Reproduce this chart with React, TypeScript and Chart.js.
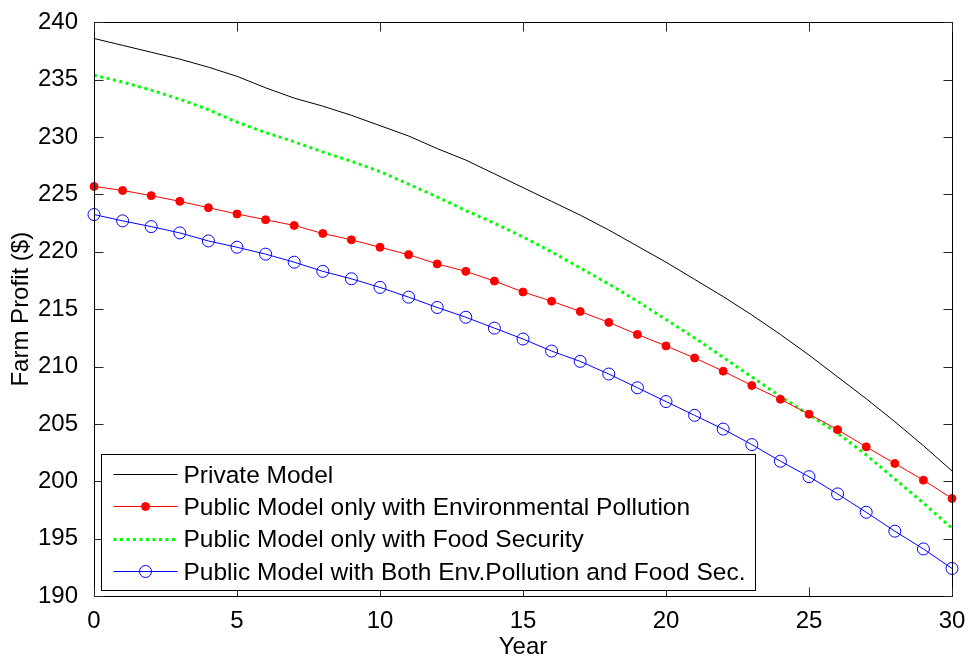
import React, { useEffect, useRef } from "react";
import { Chart, registerables } from "chart.js";

Chart.register(...registerables);

const years = [0, 1, 2, 3, 4, 5, 6, 7, 8, 9, 10, 11, 12, 13, 14, 15, 16, 17, 18, 19, 20, 21, 22, 23, 24, 25, 26, 27, 28, 29, 30];

const privateModel = [238.6, 238.0, 237.4, 236.8, 236.1, 235.3, 234.3, 233.4, 232.7, 231.9, 231.0, 230.1, 229.0, 228.0, 226.8, 225.6, 224.4, 223.2, 221.9, 220.5, 219.1, 217.6, 216.1, 214.5, 212.8, 211.0, 209.1, 207.2, 205.2, 203.1, 200.9];

const envPollution = [225.7, 225.35, 224.9, 224.4, 223.85, 223.3, 222.8, 222.3, 221.6, 221.05, 220.4, 219.75, 218.95, 218.3, 217.45, 216.5, 215.7, 214.8, 213.85, 212.8, 211.8, 210.75, 209.6, 208.35, 207.15, 205.85, 204.5, 203.0, 201.55, 200.1, 198.5];

const foodSecurity = [235.4, 234.8, 234.1, 233.3, 232.4, 231.3, 230.4, 229.6, 228.7, 227.9, 227.0, 225.9, 224.8, 223.6, 222.5, 221.3, 220.0, 218.6, 217.2, 215.7, 214.1, 212.5, 210.8, 209.1, 207.4, 205.8, 204.2, 202.3, 200.2, 198.1, 195.9];

const bothModel = [223.25, 222.7, 222.2, 221.65, 220.95, 220.4, 219.8, 219.1, 218.3, 217.65, 216.9, 216.05, 215.15, 214.3, 213.35, 212.4, 211.35, 210.45, 209.35, 208.15, 206.95, 205.75, 204.55, 203.2, 201.75, 200.4, 198.9, 197.3, 195.65, 194.1, 192.4];

const seriesLabels = [
  "Private Model",
  "Public Model only with Environmental Pollution",
  "Public Model only with Food Security",
  "Public Model with Both Env.Pollution and Food Sec.",
];

const xTicks = [0, 5, 10, 15, 20, 25, 30];
const yTicks = [190, 195, 200, 205, 210, 215, 220, 225, 230, 235, 240];

const FONT = "'Liberation Sans', Arial, sans-serif";
const FS = 24;
const LFS = 24.5;

const toXY = (vals: number[]) => vals.map((v, i) => ({ x: years[i], y: v }));

const boxPlugin = {
  id: "matlabBox",
  afterDatasetsDraw(chart: any) {
    const { ctx, chartArea: a, scales } = chart;
    const L = Math.round(a.left) + 0.5;
    const R = Math.round(a.right) + 0.5;
    const T = Math.round(a.top) + 0.5;
    const B = Math.round(a.bottom) + 0.5;
    ctx.save();
    ctx.strokeStyle = "#000";
    ctx.lineWidth = 1;
    ctx.strokeRect(L, T, R - L, B - T);
    const tl = 9;
    ctx.strokeStyle = "#262626";
    ctx.beginPath();
    xTicks.forEach((t) => {
      const px = Math.round(scales.x.getPixelForValue(t)) + 0.5;
      ctx.moveTo(px, B);
      ctx.lineTo(px, B - tl);
      ctx.moveTo(px, T);
      ctx.lineTo(px, T + tl);
    });
    yTicks.forEach((t) => {
      const py = Math.round(scales.y.getPixelForValue(t)) + 0.5;
      ctx.moveTo(L, py);
      ctx.lineTo(L + tl, py);
      ctx.moveTo(R, py);
      ctx.lineTo(R - tl, py);
    });
    ctx.stroke();
    ctx.restore();
  },
  afterDraw(chart: any) {
    const { ctx, chartArea: a } = chart;
    ctx.save();
    ctx.font = `${LFS}px ${FONT}`;
    const maxW = Math.max(...seriesLabels.map((s) => ctx.measureText(s).width));
    const left = Math.round(a.left) + 7.5;
    const bottom = Math.round(a.bottom) - 6 + 0.5;
    const rowH = 32.3;
    const height = 136;
    const top = bottom - height;
    const width = 82 + maxW + 10;
    ctx.fillStyle = "#fff";
    ctx.fillRect(left, top, width, height);
    ctx.strokeStyle = "#000";
    ctx.lineWidth = 1;
    ctx.strokeRect(left, top, width, height);
    chart.data.datasets.forEach((ds: any, i: number) => {
      const y = top + 19.5 + i * rowH;
      const x1 = left + 12;
      const x2 = left + 76;
      ctx.save();
      ctx.strokeStyle = ds.borderColor;
      ctx.lineWidth = ds.borderWidth;
      ctx.setLineDash(ds.borderDash || []);
      ctx.beginPath();
      ctx.moveTo(x1, Math.round(y) + 0.5);
      ctx.lineTo(x2, Math.round(y) + 0.5);
      ctx.stroke();
      ctx.restore();
      if (ds.pointRadius > 0) {
        const cx = (x1 + x2) / 2;
        ctx.beginPath();
        ctx.arc(cx, Math.round(y) + 0.5, ds.pointRadius, 0, Math.PI * 2);
        if (ds.pointBackgroundColor && ds.pointBackgroundColor !== "rgba(0,0,0,0)") {
          ctx.fillStyle = ds.pointBackgroundColor;
          ctx.fill();
        }
        ctx.strokeStyle = ds.pointBorderColor;
        ctx.lineWidth = 1;
        ctx.stroke();
      }
      ctx.fillStyle = "#000";
      ctx.textBaseline = "middle";
      ctx.textAlign = "left";
      ctx.fillText(seriesLabels[i], left + 82, y + 2);
    });
    ctx.restore();
  },
};

export default function App() {
  const ref = useRef<HTMLCanvasElement | null>(null);
  useEffect(() => {
    if (!ref.current) return;
    const chart = new Chart(ref.current, {
      type: "line",
      data: {
        datasets: [
          {
            label: seriesLabels[0],
            data: toXY(privateModel),
            borderColor: "#000000",
            borderWidth: 1,
            pointRadius: 0,
            fill: false,
            clip: false as any,
          },
          {
            label: seriesLabels[1],
            data: toXY(envPollution),
            borderColor: "#ff0000",
            borderWidth: 1,
            pointRadius: 4,
            pointBackgroundColor: "#ff0000",
            pointBorderColor: "#ff0000",
            pointBorderWidth: 1,
            fill: false,
            clip: false as any,
          },
          {
            label: seriesLabels[2],
            data: toXY(foodSecurity),
            borderColor: "#00ff00",
            borderWidth: 3,
            borderDash: [3, 3.5],
            pointRadius: 0,
            fill: false,
            clip: false as any,
          },
          {
            label: seriesLabels[3],
            data: toXY(bothModel),
            borderColor: "#0000ff",
            borderWidth: 1,
            pointRadius: 6,
            pointBackgroundColor: "rgba(0,0,0,0)",
            pointBorderColor: "#0000ff",
            pointBorderWidth: 1,
            fill: false,
            clip: false as any,
          },
        ],
      },
      options: {
        responsive: false,
        animation: false,
        events: [],
        layout: { padding: { top: 17, right: 17, left: 0, bottom: 0 } },
        plugins: { legend: { display: false }, tooltip: { enabled: false } },
        scales: {
          x: {
            type: "linear",
            min: 0,
            max: 30,
            grid: { display: false },
            border: { display: false },
            afterFit: (s: any) => {
              s.height = 66;
            },
            afterBuildTicks: (s: any) => {
              s.ticks = xTicks.map((v) => ({ value: v }));
            },
            ticks: {
              color: "#000",
              font: { family: FONT, size: FS },
              padding: 3,
              maxRotation: 0,
            },
            title: {
              display: true,
              text: "Year",
              color: "#000",
              font: { family: FONT, size: FS },
              padding: { top: 0, bottom: 0 },
            },
          },
          y: {
            type: "linear",
            min: 190,
            max: 240,
            grid: { display: false },
            border: { display: false },
            afterFit: (s: any) => {
              s.width = 94;
            },
            afterBuildTicks: (s: any) => {
              s.ticks = yTicks.map((v) => ({ value: v }));
            },
            ticks: {
              color: "#000",
              font: { family: FONT, size: FS },
              padding: 8,
            },
            title: {
              display: true,
              text: "Farm Profit ($)",
              color: "#000",
              font: { family: FONT, size: FS },
              padding: { top: 7, bottom: 0 },
            },
          },
        },
      },
      plugins: [boxPlugin],
    });
    return () => chart.destroy();
  }, []);
  return (
    <div style={{ position: "fixed", left: 0, top: 0, width: 969, height: 662, background: "#fff" }}>
      <canvas ref={ref} width={969} height={662} style={{ width: 969, height: 662, display: "block" }} />
    </div>
  );
}
